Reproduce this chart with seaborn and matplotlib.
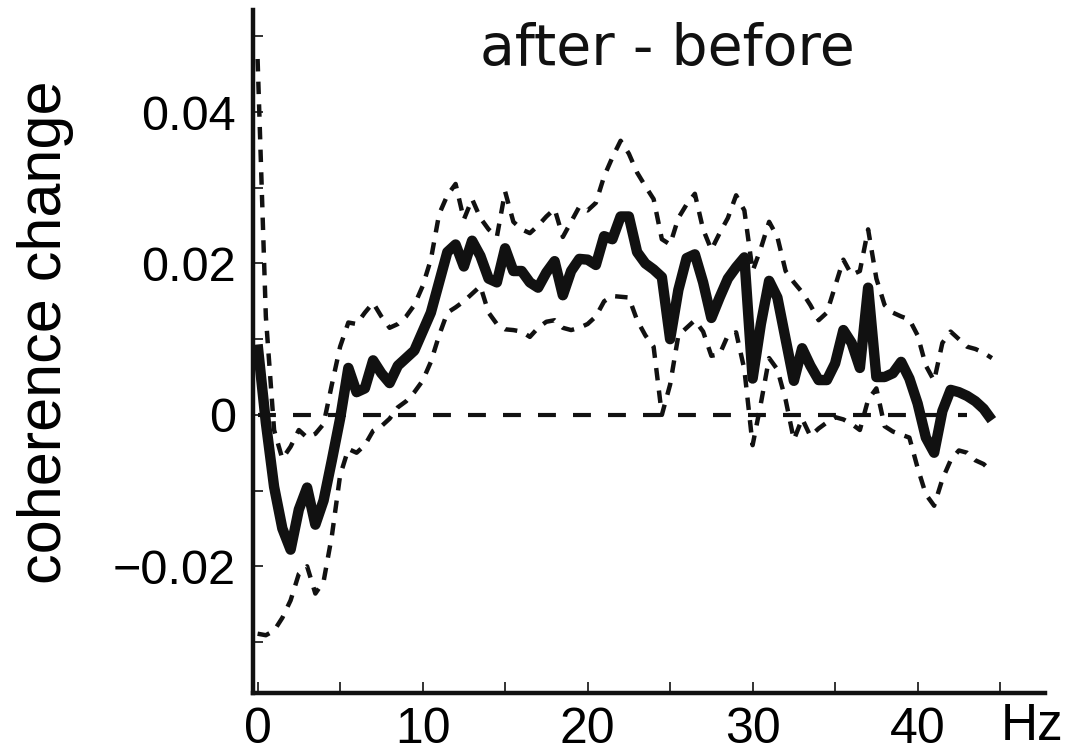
import numpy as np
import pandas as pd
import matplotlib
matplotlib.use("Agg")
import matplotlib.pyplot as plt
import matplotlib.ticker as mticker
import seaborn as sns

# frequency grid (Hz), 0.5 Hz steps
freqs = np.arange(0, 45, 0.5)

# mean coherence change (after - before)
mean_change = [
    0.0093, -0.0010, -0.0095, -0.0150, -0.0178, -0.0125, -0.0096, -0.0145, -0.0113, -0.0060,
    -0.0005, 0.0062, 0.0030, 0.0035, 0.0072, 0.0055, 0.0042, 0.0065, 0.0075, 0.0085,
    0.0110, 0.0135, 0.0175, 0.0215, 0.0225, 0.0196, 0.0230, 0.0210, 0.0180, 0.0175,
    0.0220, 0.0190, 0.0190, 0.0175, 0.0168, 0.0188, 0.0203, 0.0158, 0.0190, 0.0206,
    0.0205, 0.0198, 0.0236, 0.0232, 0.0262, 0.0262, 0.0215, 0.0200, 0.0192, 0.0182,
    0.0100, 0.0165, 0.0207, 0.0212, 0.0175, 0.0128, 0.0155, 0.0180, 0.0195, 0.0208,
    0.0048, 0.0120, 0.0177, 0.0155, 0.0100, 0.0045, 0.0088, 0.0065, 0.0046, 0.0046,
    0.0068, 0.0112, 0.0095, 0.0062, 0.0168, 0.0050, 0.0050, 0.0055, 0.0070, 0.0048,
    0.0015, -0.0030, -0.0050, 0.0005, 0.0033, 0.0030, 0.0025, 0.0018, 0.0008, -0.0007,
]

# upper confidence bound
upper = [
    0.0470, 0.0130, -0.0020, -0.0058, -0.0042, -0.0020, -0.0030, -0.0025, -0.0012, 0.0040,
    0.0090, 0.0122, 0.0120, 0.0135, 0.0148, 0.0130, 0.0115, 0.0120, 0.0130, 0.0145,
    0.0170, 0.0205, 0.0265, 0.0290, 0.0305, 0.0258, 0.0285, 0.0260, 0.0245, 0.0235,
    0.0295, 0.0255, 0.0245, 0.0240, 0.0250, 0.0262, 0.0272, 0.0235, 0.0255, 0.0275,
    0.0270, 0.0280, 0.0315, 0.0340, 0.0362, 0.0345, 0.0320, 0.0302, 0.0285, 0.0232,
    0.0225, 0.0260, 0.0278, 0.0292, 0.0245, 0.0218, 0.0240, 0.0260, 0.0290, 0.0270,
    0.0190, 0.0220, 0.0255, 0.0235, 0.0190, 0.0175, 0.0162, 0.0145, 0.0125, 0.0135,
    0.0170, 0.0205, 0.0185, 0.0190, 0.0245, 0.0180, 0.0145, 0.0135, 0.0130, 0.0126,
    0.0105, 0.0065, 0.0045, 0.0095, 0.0110, 0.0100, 0.0090, 0.0087, 0.0082, 0.0075,
]

# lower confidence bound
lower = [
    -0.0289, -0.0291, -0.0285, -0.0268, -0.0245, -0.0210, -0.0200, -0.0236, -0.0220, -0.0160,
    -0.0080, -0.0045, -0.0050, -0.0040, -0.0021, -0.0015, -0.0005, 0.0010, 0.0018, 0.0030,
    0.0045, 0.0070, 0.0105, 0.0135, 0.0142, 0.0150, 0.0160, 0.0170, 0.0135, 0.0120,
    0.0113, 0.0112, 0.0110, 0.0103, 0.0115, 0.0123, 0.0125, 0.0115, 0.0112, 0.0115,
    0.0120, 0.0130, 0.0150, 0.0157, 0.0156, 0.0155, 0.0125, 0.0105, 0.0090, 0.0000,
    0.0040, 0.0105, 0.0115, 0.0125, 0.0110, 0.0078, 0.0080, 0.0105, 0.0109, 0.0060,
    -0.0040, 0.0015, 0.0075, 0.0060, 0.0020, -0.0033, -0.0005, -0.0028, -0.0018, -0.0010,
    -0.0003, -0.0006, -0.0012, -0.0020, 0.0020, 0.0035, -0.0015, -0.0022, -0.0026, -0.0030,
    -0.0070, -0.0105, -0.0120, -0.0085, -0.0060, -0.0047, -0.0050, -0.0060, -0.0065, -0.0075,
]

baseline = 0.0
baseline_end_hz = 43

df = pd.DataFrame({"freq": freqs, "mean": mean_change, "upper": upper, "lower": lower})

sns.set_style("ticks")
plt.rcParams["font.family"] = ["Liberation Sans", "DejaVu Sans"]

ink = "#111111"
fig = plt.figure(figsize=(10.66, 7.53), dpi=100)
ax = fig.add_axes([0.237, 0.080, 0.743, 0.907])

# zero reference line
ax.hlines(baseline, df["freq"].iloc[0], baseline_end_hz, color=ink, lw=3,
          linestyles=(0, (4.3, 4.1)), zorder=1)

# confidence bounds
for col in ["upper", "lower"]:
    sns.lineplot(data=df, x="freq", y=col, ax=ax, color=ink, linewidth=3.2,
                 linestyle=(0, (2.8, 2.3)), zorder=2)

# mean curve
sns.lineplot(data=df, x="freq", y="mean", ax=ax, color=ink, linewidth=7.5,
             solid_capstyle="butt", solid_joinstyle="round", zorder=3)

ax.set_xlim(-0.3, 47.7)
ax.set_ylim(-0.0367, 0.0535)

sns.despine(ax=ax)
for s in ["left", "bottom"]:
    ax.spines[s].set_linewidth(3.2)
    ax.spines[s].set_color(ink)

ax.xaxis.set_major_locator(mticker.MultipleLocator(10))
ax.xaxis.set_minor_locator(mticker.MultipleLocator(5))
ax.yaxis.set_major_locator(mticker.FixedLocator([-0.02, 0, 0.02, 0.04]))
ax.yaxis.set_minor_locator(mticker.MultipleLocator(0.01))
ax.yaxis.set_major_formatter(mticker.FuncFormatter(
    lambda v, p: "0" if abs(v) < 1e-9 else ("\u2212" if v < 0 else "") + f"{abs(v):.2f}"))

ax.tick_params(axis="both", which="both", direction="in", color=ink, width=1.2,
               labelcolor="black")
ax.tick_params(axis="x", which="both", length=8, labelsize=36, pad=10)
ax.tick_params(axis="y", which="both", length=7, labelsize=35, pad=12)

ax.set_xlabel("")
ax.set_ylabel("coherence change", fontsize=44, labelpad=28, color="black")
ax.yaxis.label.set_y(0.5285)

ax.text(0.524, 0.9195, "after - before", transform=ax.transAxes, ha="center",
        va="baseline", fontsize=41, family="DejaVu Sans", color=ink)
ax.text(0.9836, -0.085, "Hz", transform=ax.transAxes, ha="center",
        va="bottom", fontsize=37, color="black")

fig.savefig("out.png", dpi=100)
